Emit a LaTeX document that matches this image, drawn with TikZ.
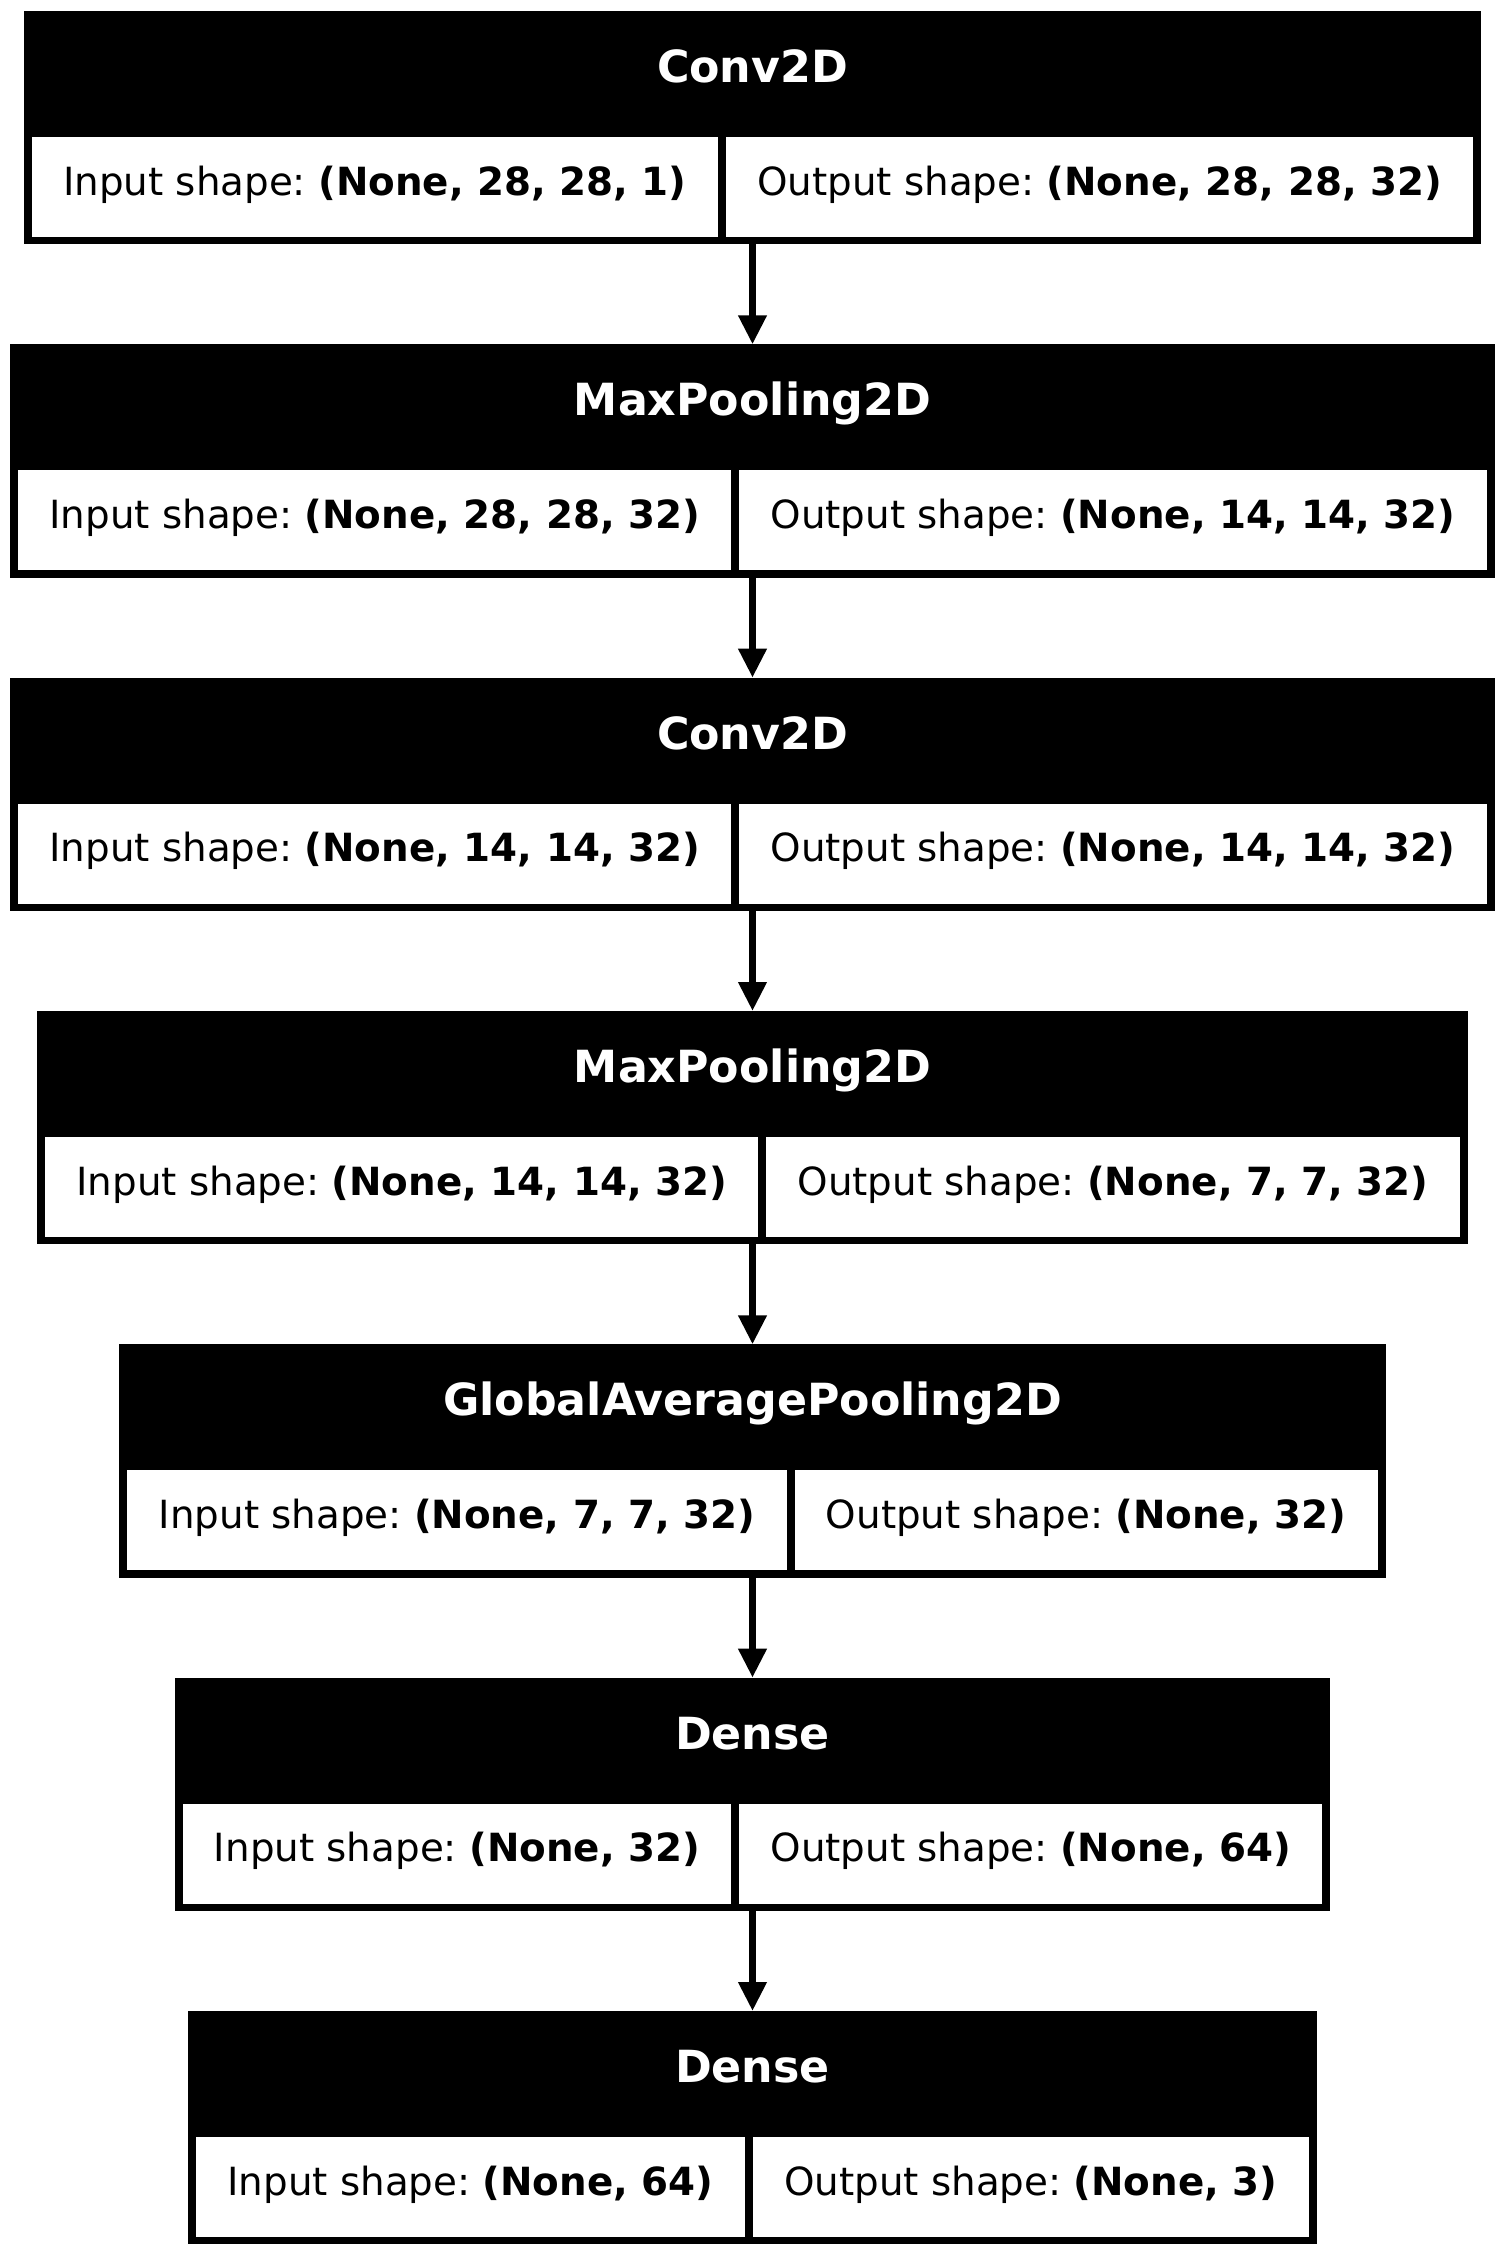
\documentclass[tikz,border=0pt]{standalone}
\usepackage{fontspec}
\setmainfont{DejaVu Sans}
\usetikzlibrary{arrows.meta}
\newlength\wA
\newlength\wB
\newcommand\cellfont{\fontsize{19.4pt}{23pt}\selectfont\frenchspacing}
\newcommand\titlefont{\fontsize{22.15pt}{26pt}\selectfont\bfseries}
\def\padx{15.65}
\def\bd{4}
\def\cx{376.25}
\def\hdr{63}
\def\cellh{50}
\def\boxh{116.67}
\def\titlebase{35.75}
\tikzset{
  layerbox/.style={fill=black, inner sep=0pt, outer sep=0pt, anchor=north west, minimum height=\boxh pt},
  cellbox/.style={fill=white, inner sep=0pt, outer sep=0pt, anchor=north west, minimum height=\cellh pt, font=\cellfont, text height=16pt, text depth=7.7pt},
  titletext/.style={text=white, font=\titlefont, inner sep=0pt, anchor=base},
  flow/.style={line width=3.5pt, -{Triangle[length=14.5pt,width=13.5pt]}},
}
\newcommand\measure[3]{%
  \settowidth\wA{\cellfont Input shape: \textbf{#2}}%
  \settowidth\wB{\cellfont Output shape: \textbf{#3}}%
  \expandafter\xdef\csname mw#1a\endcsname{\the\wA}%
  \expandafter\xdef\csname mw#1b\endcsname{\the\wB}%
}
\newcommand\layer[5]{%
  \pgfmathsetmacro\cA{\csname mw#1a\endcsname+2*\padx}%
  \pgfmathsetmacro\cB{\csname mw#1b\endcsname+2*\padx}%
  \pgfmathsetmacro\tot{\cA+\cB+3*\bd}%
  \pgfmathsetmacro\Lx{\cx-\tot/2}%
  \node[layerbox, minimum width=\tot pt] (#1) at (\Lx, #2) {};
  \node[titletext] (#1-title) at (\cx, #2+\titlebase) {#3};
  \node[cellbox, minimum width=\cA pt] (#1-in) at (\Lx+\bd, #2+\hdr) {Input shape: \textbf{#4}};
  \node[cellbox, minimum width=\cB pt] (#1-out) at (\Lx+2*\bd+\cA, #2+\hdr) {Output shape: \textbf{#5}};
}
\begin{document}
\frenchspacing
\measure{l1}{(None, 28, 28, 1)}{(None, 28, 28, 32)}%
\measure{l2}{(None, 28, 28, 32)}{(None, 14, 14, 32)}%
\measure{l3}{(None, 14, 14, 32)}{(None, 14, 14, 32)}%
\measure{l4}{(None, 14, 14, 32)}{(None, 7, 7, 32)}%
\measure{l5}{(None, 7, 7, 32)}{(None, 32)}%
\measure{l6}{(None, 32)}{(None, 64)}%
\measure{l7}{(None, 64)}{(None, 3)}%
\begin{tikzpicture}[x=1pt, y=-1pt]
\useasboundingbox (0,0) rectangle (753,1128);
\layer{l1}{5.5}{Conv2D}{(None, 28, 28, 1)}{(None, 28, 28, 32)}
\layer{l2}{172.17}{MaxPooling2D}{(None, 28, 28, 32)}{(None, 14, 14, 32)}
\layer{l3}{338.83}{Conv2D}{(None, 14, 14, 32)}{(None, 14, 14, 32)}
\layer{l4}{505.5}{MaxPooling2D}{(None, 14, 14, 32)}{(None, 7, 7, 32)}
\layer{l5}{672.17}{GlobalAveragePooling2D}{(None, 7, 7, 32)}{(None, 32)}
\layer{l6}{838.83}{Dense}{(None, 32)}{(None, 64)}
\layer{l7}{1005.5}{Dense}{(None, 64)}{(None, 3)}
\draw[flow] (l1.south) -- (l2.north);
\draw[flow] (l2.south) -- (l3.north);
\draw[flow] (l3.south) -- (l4.north);
\draw[flow] (l4.south) -- (l5.north);
\draw[flow] (l5.south) -- (l6.north);
\draw[flow] (l6.south) -- (l7.north);
\end{tikzpicture}
\end{document}
